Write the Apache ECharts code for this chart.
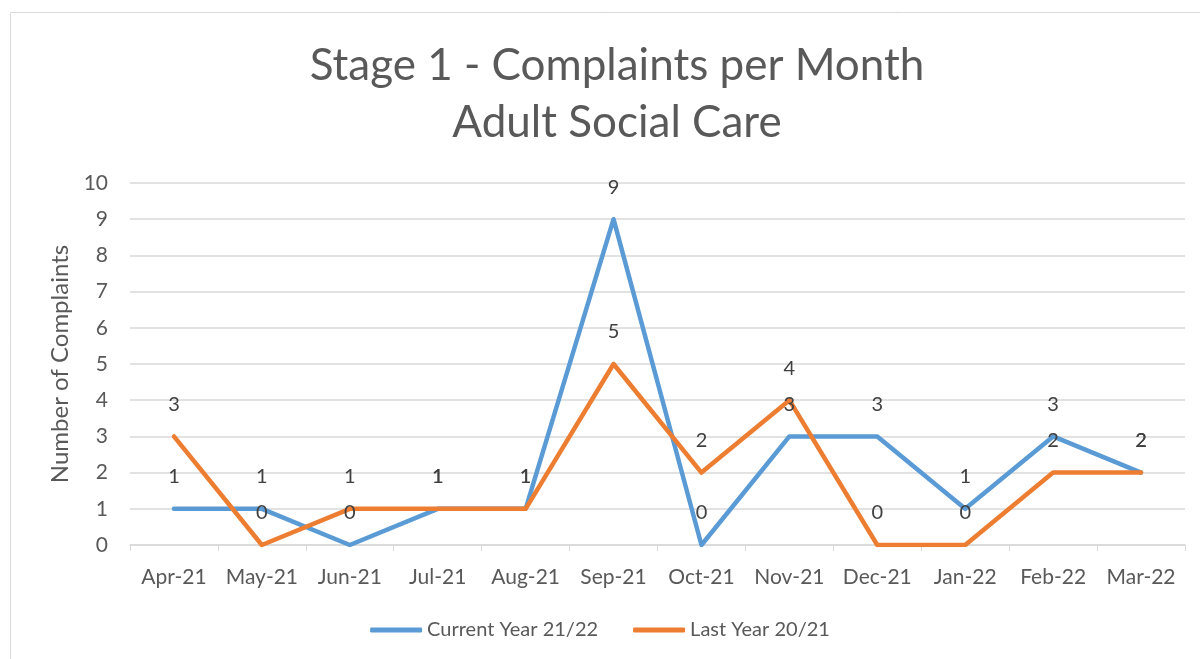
<!DOCTYPE html>
<html><head><meta charset="utf-8">
<script src="https://cdn.jsdelivr.net/npm/echarts@6/dist/echarts.min.js"></script>
<style>html,body{margin:0;padding:0;background:#fff}#c{width:1200px;height:659px}</style>
</head><body><div id="c"></div>
<script>
const categories = ['Apr-21','May-21','Jun-21','Jul-21','Aug-21','Sep-21','Oct-21','Nov-21','Dec-21','Jan-22','Feb-22','Mar-22'];
const currentYear = [1,1,0,1,1,9,0,3,3,1,3,2];
const lastYear = [3,0,1,1,1,5,2,4,0,0,2,2];
const yTicks = [0,1,2,3,4,5,6,7,8,9,10];
const FONT = 'Lato, "Open Sans", sans-serif';
const chart = echarts.init(document.getElementById('c'));
const lbl = {show:true, position:'top', distance:22, color:'#404040', fontSize:20, fontFamily:FONT};
chart.setOption({
  animation:false,
  graphic:[{type:'rect', shape:{x:10.5,y:12.5,width:1200,height:660}, style:{fill:'none', stroke:'#d9d9d9', lineWidth:1}, z:-1}],
  title:{text:'Stage 1 - Complaints per Month\nAdult Social Care', left:612, textAlign:'center', top:32, textStyle:{fontSize:44, fontWeight:'normal', color:'#595959', fontFamily:FONT, lineHeight:57}},
  legend:{bottom:14, left:'center', itemWidth:52, itemHeight:5, itemGap:35, icon:'roundRect', textStyle:{fontSize:20, color:'#595959', fontFamily:FONT},
    data:[{name:'Current Year 21/22', itemStyle:{color:'#5B9BD5'}},{name:'Last Year 20/21', itemStyle:{color:'#ED7D31'}}]},
  grid:{left:130, right:15, top:183, bottom:114},
  xAxis:{type:'category', data:categories, boundaryGap:true,
    axisLine:{lineStyle:{color:'#d9d9d9', width:1.5}},
    axisTick:{show:true, interval:0, alignWithLabel:false, length:6, lineStyle:{color:'#d9d9d9'}},
    axisLabel:{interval:0, color:'#595959', fontSize:21, fontFamily:FONT, margin:22}},
  yAxis:{type:'value', min:yTicks[0], max:yTicks[yTicks.length-1], interval:1,
    name:'Number of Complaints', nameLocation:'middle', nameGap:56, nameRotate:90,
    nameTextStyle:{fontSize:24, color:'#595959', fontFamily:FONT},
    axisLine:{show:false}, axisTick:{show:false},
    axisLabel:{color:'#595959', fontSize:21, fontFamily:FONT, margin:22},
    splitLine:{lineStyle:{color:'#d9d9d9', width:1.5}}},
  series:[
    {name:'Current Year 21/22', type:'line', data:currentYear, symbol:'circle', symbolSize:0.01, showSymbol:true, lineStyle:{color:'#5B9BD5', width:4.5, cap:'round', join:'round'}, itemStyle:{color:'#5B9BD5'}, label:lbl, labelLayout:{hideOverlap:false}},
    {name:'Last Year 20/21', type:'line', data:lastYear, symbol:'circle', symbolSize:0.01, showSymbol:true, lineStyle:{color:'#ED7D31', width:4.5, cap:'round', join:'round'}, itemStyle:{color:'#ED7D31'}, label:lbl, labelLayout:{hideOverlap:false}}
  ]
});
</script></body></html>
